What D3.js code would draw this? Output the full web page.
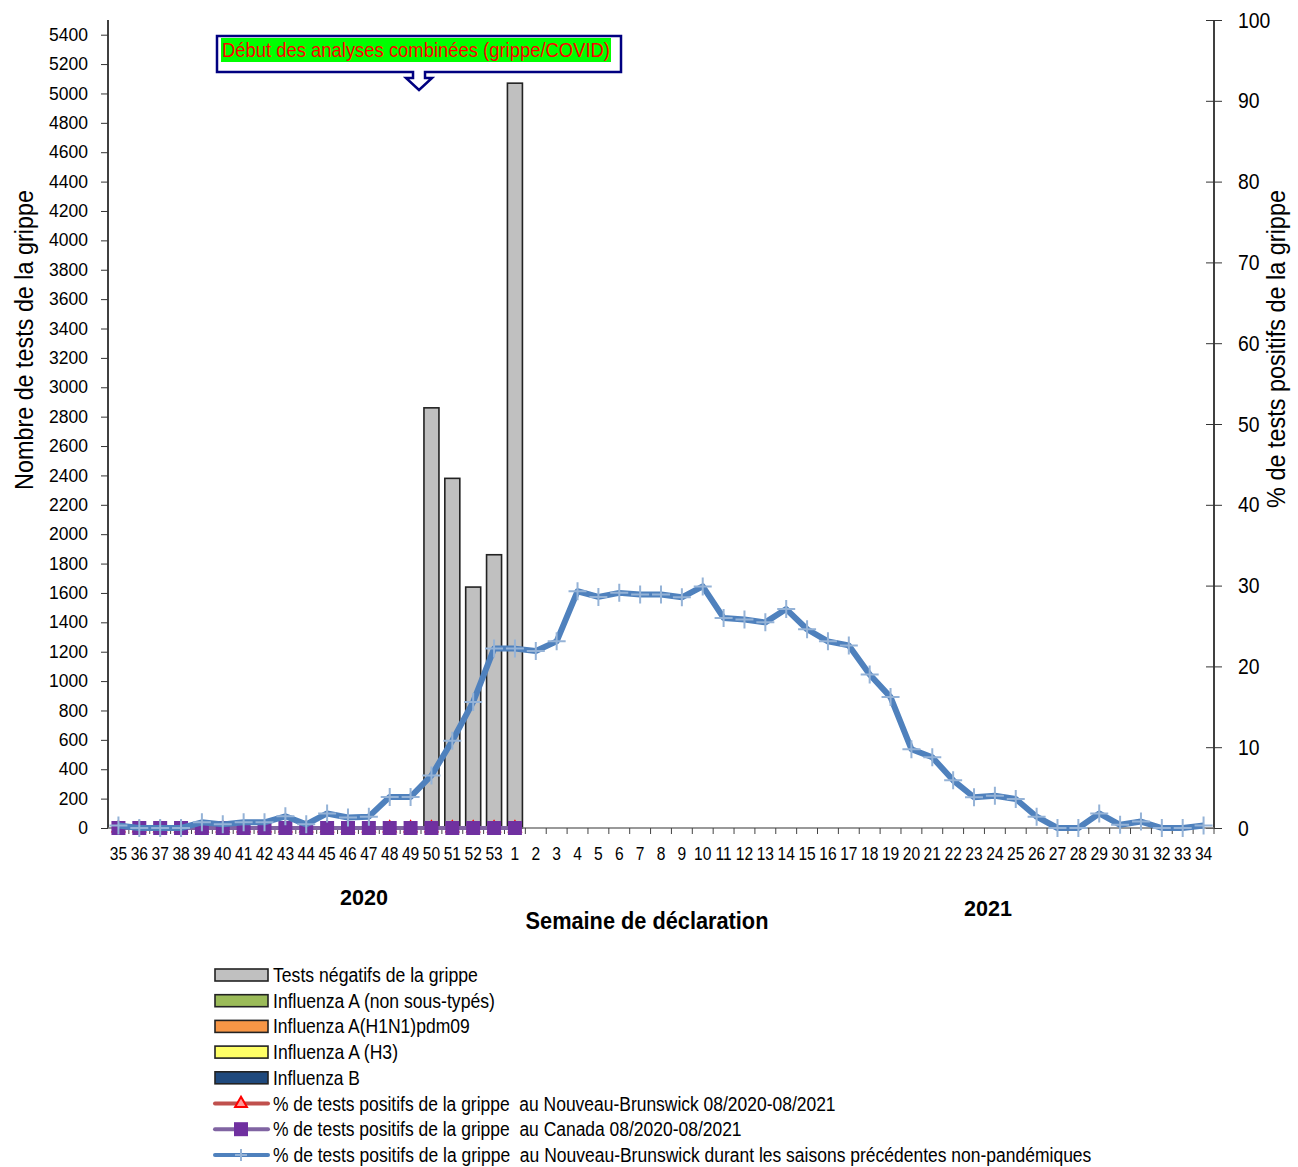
<!DOCTYPE html>
<html>
<head>
<meta charset="utf-8">
<script src="https://cdn.jsdelivr.net/npm/d3@7"></script>
<style>
  body { margin: 0; background: #fff; }
  svg text { font-family: "Liberation Sans", Arial, sans-serif; fill: #000; }
</style>
</head>
<body>
<div id="chart"></div>
<script>
// semaines de déclaration (08/2020 - 08/2021)
const weeks = ["35","36","37","38","39","40","41","42","43","44","45","46","47","48","49","50","51","52","53",
  "1","2","3","4","5","6","7","8","9","10","11","12","13","14","15","16","17","18","19","20","21","22","23","24",
  "25","26","27","28","29","30","31","32","33","34"];

// nombre de tests (axe gauche)
const negTests = [0,0,0,0,0,0,0,0,0,0,0,0,0,0,0,2860,2380,1640,1860,5070,
  0,0,0,0,0,0,0,0,0,0,0,0,0,0,0,0,0,0,0,0,0,0,0,0,0,0,0,0,0,0,0,0,0];
const fluANonTyped = weeks.map(() => 0);
const fluAH1N1 = weeks.map(() => 0);
const fluAH3 = weeks.map(() => 0);
const fluB = weeks.map(() => 0);

// % de tests positifs (axe droit)
const pctNB = [0,0,0,0,0,0,0,0,0,0,0,0,0,0,0,0,0,0,0,0,
  null,null,null,null,null,null,null,null,null,null,null,null,null,null,null,null,null,null,null,null,
  null,null,null,null,null,null,null,null,null,null,null,null,null];
const pctCanada = [0,0,0,0,0,0,0,0,0,0,0,0,0,0,0,0,0,0,0,0,
  null,null,null,null,null,null,null,null,null,null,null,null,null,null,null,null,null,null,null,null,
  null,null,null,null,null,null,null,null,null,null,null,null,null];
const pctPrevSeasons = [0.3,0,0,0,0.7,0.45,0.7,0.7,1.45,0.45,1.8,1.3,1.4,3.85,3.85,6.5,10.8,15.6,22.2,22.2,
  21.9,23.1,29.3,28.6,29.1,28.9,28.9,28.55,29.9,26.0,25.8,25.45,27.1,24.6,23.1,22.6,19.0,16.2,9.75,8.75,
  5.9,3.8,4.0,3.6,1.4,0,0,1.8,0.4,0.8,0,0,0.3];

const leftTicks = d3.range(0, 5401, 200);
const rightTicks = d3.range(0, 101, 10);

const barSeries = [
  { name: "Tests négatifs de la grippe", values: negTests, color: "#c0c0c0", w: 205 },
  { name: "Influenza A (non sous-typés)", values: fluANonTyped, color: "#9bbb59", w: 222 },
  { name: "Influenza A(H1N1)pdm09", values: fluAH1N1, color: "#f79646", w: 197 },
  { name: "Influenza A (H3)", values: fluAH3, color: "#ffff66", w: 125 },
  { name: "Influenza B", values: fluB, color: "#1f497d", w: 87 }
];
const lineSeries = [
  { name: "% de tests positifs de la grippe  au Nouveau-Brunswick 08/2020-08/2021", values: pctNB, color: "#c0504d", marker: "triangle", w: 563 },
  { name: "% de tests positifs de la grippe  au Canada 08/2020-08/2021", values: pctCanada, color: "#8064a2", marker: "square", w: 469 },
  { name: "% de tests positifs de la grippe  au Nouveau-Brunswick durant les saisons précédentes non-pandémiques", values: pctPrevSeasons, color: "#4f81bd", marker: "plus", w: 819 }
];

const W = 1298, H = 1167;
const mLeft = 108, mRight = 1214, mTop = 20, mBottom = 828;

const svg = d3.select("#chart").append("svg").attr("width", W).attr("height", H);

// texte étroit : on écrase la largeur pour retrouver la police "narrow" du graphique
function fitText(g, str, x, y, size, width, opts) {
  opts = opts || {};
  const t = g.append("text").style("font-size", size + "px").style("white-space", "pre")
    .attr("text-anchor", opts.anchor || "start").text(str);
  if (opts.bold) t.style("font-weight", "bold");
  if (opts.fill) t.style("fill", opts.fill);
  const s = width / t.node().getComputedTextLength();
  t.attr("transform", "translate(" + x + "," + y + ")" + (opts.rotate ? " rotate(" + opts.rotate + ")" : "") + " scale(" + s + ",1)");
  return t;
}

const xb = d3.scaleBand().domain(weeks).range([mLeft, mRight]);
const y = d3.scaleLinear().domain([0, 5500]).range([mBottom, mTop]);
const y2 = d3.scaleLinear().domain([0, 100]).range([mBottom, mTop]);

// barres empilées
const stackData = weeks.map((w, i) => {
  const o = { week: w };
  barSeries.forEach((s, k) => o["s" + k] = s.values[i]);
  return o;
});
const stack = d3.stack().keys(barSeries.map((s, k) => "s" + k))(stackData);
stack.forEach((layer, k) => {
  svg.append("g").selectAll("rect").data(layer.filter(d => d[1] - d[0] > 0)).enter().append("rect")
    .attr("x", d => xb(d.data.week) + (xb.bandwidth() - 15) / 2)
    .attr("width", 15)
    .attr("y", d => y(d[1]))
    .attr("height", d => y(d[0]) - y(d[1]))
    .attr("fill", barSeries[k].color)
    .attr("stroke", "#222")
    .attr("stroke-width", 1.6);
});

// axes
const yAxis = svg.append("g").attr("transform", "translate(" + mLeft + ",0)")
  .call(d3.axisLeft(y).tickValues(leftTicks).tickFormat(d3.format("d")).tickSize(7).tickPadding(13));
yAxis.selectAll("text").style("font-size", "17.5px").style("font-family", "'Liberation Sans', Arial, sans-serif");
yAxis.select(".domain").attr("d", "M0," + mBottom + "V" + mTop).attr("stroke", "#000").attr("stroke-width", 1.5);
yAxis.selectAll(".tick line").attr("stroke", "#333");

const y2Axis = svg.append("g").attr("transform", "translate(" + mRight + ",0)")
  .call(d3.axisRight(y2).tickValues(rightTicks).tickSize(8).tickPadding(16));
y2Axis.selectAll("text").style("font-size", "22px").style("font-family", "'Liberation Sans', Arial, sans-serif")
  .attr("x", 24 / 0.88).attr("transform", "scale(0.88,1)");
y2Axis.select(".domain").attr("d", "M0," + mBottom + "V" + mTop).attr("stroke", "#000").attr("stroke-width", 1.5);
y2Axis.selectAll(".tick line").attr("x1", -8).attr("stroke", "#333");

const xAxis = svg.append("g").attr("transform", "translate(0," + mBottom + ")");
xAxis.append("line").attr("x1", mLeft).attr("x2", mRight).attr("stroke", "#777").attr("stroke-width", 1.5);
xAxis.selectAll(".tk").data(weeks).enter().append("line")
  .attr("x1", d => xb(d) + xb.bandwidth()).attr("x2", d => xb(d) + xb.bandwidth())
  .attr("y1", 0).attr("y2", 6).attr("stroke", "#444");
xAxis.selectAll(".lbl").data(weeks).enter().append("text")
  .attr("transform", d => "translate(" + (xb(d) + xb.bandwidth() / 2) + ",32) scale(0.82,1)")
  .attr("text-anchor", "middle").style("font-size", "19px").text(d => d);

// lignes
const markerPath = {
  triangle: d3.symbol().type(d3.symbolTriangle).size(60)(),
  square: "M-7,-7H7V7H-7Z",
  plus: "M-9,0H9M0,-9V9"
};
lineSeries.forEach(s => {
  const line = d3.line().defined(d => d != null)
    .x((d, i) => xb(weeks[i]) + xb.bandwidth() / 2).y(d => y2(d));
  svg.append("path").datum(s.values).attr("d", line).attr("fill", "none")
    .attr("stroke", s.color).attr("stroke-width", s.marker === "plus" ? 6 : 4)
    .attr("stroke-linejoin", "round");
  const pts = s.values.map((v, i) => ({ v, i })).filter(d => d.v != null);
  const g = svg.append("g").selectAll("path").data(pts).enter().append("path")
    .attr("transform", d => "translate(" + (xb(weeks[d.i]) + xb.bandwidth() / 2) + "," + y2(d.v) + ")")
    .attr("d", markerPath[s.marker]);
  if (s.marker === "plus") g.attr("fill", "none").attr("stroke", "#95b3d7").attr("stroke-width", 2);
  else if (s.marker === "square") g.attr("fill", "#7030a0");
  else g.attr("fill", "#ff9999").attr("stroke", "#ff0000").attr("stroke-width", 2);
});

// titres
fitText(svg, "Nombre de tests de la grippe", 33, 340, 26, 300, { anchor: "middle", rotate: -90 });
fitText(svg, "% de tests positifs de la grippe", 1285, 349, 26, 318, { anchor: "middle", rotate: -90 });
fitText(svg, "Semaine de déclaration", 647, 929, 24, 243, { anchor: "middle", bold: true });
fitText(svg, "2020", 364, 905, 22, 48, { anchor: "middle", bold: true });
fitText(svg, "2021", 988, 916, 22, 48, { anchor: "middle", bold: true });

// annotation
const ax = xb("50") - 2;
svg.append("path")
  .attr("d", "M217,36H621V72H" + (ax + 6) + "V78H" + (ax + 13) + "L" + ax + ",90L" + (ax - 13) + ",78H" + (ax - 6) + "V72H217Z")
  .attr("fill", "#fff").attr("stroke", "#000080").attr("stroke-width", 2.5);
svg.append("rect").attr("x", 221).attr("y", 38).attr("width", 390).attr("height", 24).attr("fill", "#00ff00");
fitText(svg, "Début des analyses combinées (grippe/COVID)", 222, 57, 21, 388, { fill: "#ff0000" });

// légende
const lg = svg.append("g");
const rowY = i => 975 + i * 25.7;
barSeries.forEach((s, i) => {
  lg.append("rect").attr("x", 215).attr("y", rowY(i) - 6).attr("width", 53).attr("height", 12)
    .attr("fill", s.color).attr("stroke", "#222").attr("stroke-width", 1.6);
  fitText(lg, s.name, 273, rowY(i) + 7, 21, s.w);
});
lineSeries.forEach((s, j) => {
  const i = j + barSeries.length;
  lg.append("line").attr("x1", 215).attr("x2", 268).attr("y1", rowY(i)).attr("y2", rowY(i))
    .attr("stroke", s.color).attr("stroke-width", 4).attr("stroke-linecap", "round");
  const m = lg.append("path").attr("transform", "translate(241," + rowY(i) + ")").attr("d", markerPath[s.marker]);
  if (s.marker === "plus") m.attr("fill", "none").attr("stroke", "#95b3d7").attr("stroke-width", 2).attr("d", "M-6,0H6M0,-6V6");
  else if (s.marker === "square") m.attr("fill", "#7030a0");
  else m.attr("fill", "#ff9999").attr("stroke", "#ff0000").attr("stroke-width", 2);
  fitText(lg, s.name, 273, rowY(i) + 7, 21, s.w);
});
</script>
</body>
</html>
